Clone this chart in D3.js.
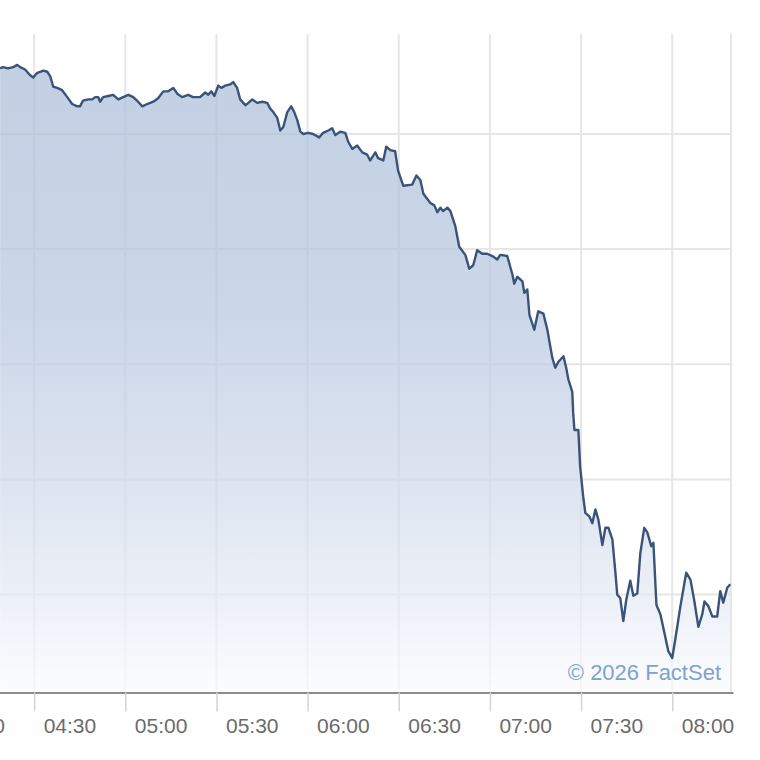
<!DOCTYPE html>
<html lang="en">

<head>
    <meta charset="UTF-8">
    <title>Intraday</title>
    <style>
        body {
            margin: 0;
            background-color: white;
        }

        svg {
            display: block;
            font-family: "Liberation Sans", Arial, sans-serif;
        }
    </style>
</head>

<body>
    <script src="https://d3js.org/d3.v7.min.js"></script>
    <script>
        // minutes after 04:00
        let minutes = [
            18.8, 19.8, 21.4, 23.1, 24.4, 25.4, 27.0, 28.7, 29.7, 30.3, 31.0, 32.0, 33.0, 34.3, 35.3, 36.3, 37.6, 39.2, 40.9, 42.5,
            44.2, 45.1, 46.1, 47.8, 49.1, 50.1, 51.1, 51.7, 52.7, 54.4, 56.0, 57.7, 59.3, 61.0, 62.6, 64.2, 65.6, 67.2, 69.2, 70.8,
            72.5, 74.1, 75.8, 77.1, 78.7, 80.7, 82.3, 84.6, 86.3, 87.3, 88.3, 89.3, 90.6, 91.6, 92.9, 94.5, 95.5, 96.8, 97.8,
            99.5, 100.5, 101.8, 103.4, 105.1, 106.7, 107.7, 108.7, 110.0, 111.0, 112.0, 113.3, 114.6, 115.6, 116.6, 117.6, 118.6, 120.2, 121.8, 123.8,
            125.1, 126.8, 128.1, 129.1, 130.7, 132.4, 133.4, 134.7, 136.3, 138.0, 139.6, 140.6, 142.3, 143.2, 144.9, 145.9, 147.2, 148.8, 149.8, 151.5,
            154.4, 155.8, 157.1, 158.1,
            160.4, 161.7, 162.7, 163.7, 164.6, 166.0, 167.0, 168.6, 169.9, 171.9, 173.2, 174.5, 175.8, 177.5, 179.1, 180.8, 182.4, 183.4, 185.7, 187.4,
            188.0, 189.0, 190.7, 191.3, 192.3, 193.0, 194.6, 195.9, 197.6, 198.9, 200.5, 201.5, 202.5, 204.2, 205.1, 205.8,
            207.1, 207.4, 207.8, 209.1, 209.7, 210.7, 211.4, 212.7, 213.7, 214.7, 215.7, 217.0, 218.0, 219.0, 220.3, 221.3, 221.9, 222.9, 223.9, 224.9,
            226.2, 227.2, 228.5, 229.5, 230.8, 231.8, 233.1, 233.8, 234.8, 236.1, 237.4, 238.7, 240.0, 241.0, 242.7, 244.6, 246.0, 247.3, 248.6, 249.9,
            250.6, 251.9, 253.2, 254.8, 255.8, 256.8, 258.1, 259.1
        ];

        let prices = [
            5.57, 5.58, 5.57, 5.58, 5.60, 5.58, 5.56, 5.51, 5.49, 5.51, 5.53, 5.54, 5.55, 5.54, 5.50, 5.41, 5.40, 5.38, 5.32, 5.26,
            5.24, 5.24, 5.29, 5.30, 5.30, 5.32, 5.32, 5.28, 5.32, 5.33, 5.34, 5.30, 5.32, 5.34, 5.32, 5.28, 5.24, 5.26, 5.28, 5.31,
            5.37, 5.37, 5.40, 5.35, 5.32, 5.34, 5.32, 5.32, 5.36, 5.34, 5.37, 5.33, 5.42, 5.40, 5.42, 5.43, 5.45, 5.40, 5.30,
            5.25, 5.27, 5.30, 5.27, 5.28, 5.27, 5.22, 5.19, 5.14, 5.03, 5.06, 5.19, 5.24, 5.19, 5.12, 5.02, 5.00, 5.01, 5.00, 4.97,
            5.01, 5.03, 5.05, 4.99, 5.02, 5.01, 4.93, 4.87, 4.90, 4.84, 4.82, 4.77, 4.84, 4.79, 4.77, 4.89, 4.86, 4.85, 4.68, 4.55,
            4.56, 4.64, 4.60, 4.48,
            4.40, 4.38, 4.32, 4.36, 4.33, 4.36, 4.33, 4.20, 4.02, 3.95, 3.83, 3.86, 3.99, 3.96, 3.96, 3.94, 3.91, 3.95, 3.94, 3.78,
            3.70, 3.76, 3.72, 3.62, 3.65, 3.43, 3.30, 3.46, 3.44, 3.30, 3.06, 2.97, 3.02, 3.07, 2.97, 2.87,
            2.76, 2.58, 2.43, 2.43, 2.11, 1.85, 1.71, 1.68, 1.62, 1.74, 1.65, 1.43, 1.58, 1.58, 1.48, 1.19, 1.00, 0.97, 0.77, 0.96,
            1.12, 0.99, 1.01, 1.36, 1.58, 1.54, 1.42, 1.45, 0.91, 0.83, 0.67, 0.51, 0.45, 0.61, 0.90, 1.19, 1.13, 0.94, 0.72, 0.83,
            0.94, 0.90, 0.81, 0.81, 1.03, 0.93, 1.06, 1.09
        ];

        let tickLabels = ['04:00', '04:30', '05:00', '05:30', '06:00', '06:30', '07:00', '07:30', '08:00'];
        let gridValues = [1, 2, 3, 4, 5];

        {
            let width = 760,
                height = 760;
            let top = 34,
                bottom = 692.5;

            let parse = d3.timeParse('%H:%M');
            let start = parse('04:00');
            let data = minutes.map((m, i) => ({
                t: new Date(start.getTime() + m * 60000),
                v: prices[i]
            }));
            let tickDates = tickLabels.map(parse);

            let x = d3.scaleTime()
                .domain([start, parse('08:20')])
                .range([-57, 733]);

            let y = d3.scaleLinear()
                .domain([0.15, 5.868])
                .range([bottom, top]);

            let svg = d3.select('body')
                .append('svg')
                .attr('width', width)
                .attr('height', height);

            let defs = svg.append('defs');
            let grad = defs.append('linearGradient')
                .attr('id', 'fade')
                .attr('gradientUnits', 'userSpaceOnUse')
                .attr('x1', 0).attr('x2', 0)
                .attr('y1', 65).attr('y2', bottom);
            [
                [0, 'rgb(169,188,216)'],
                [0.4, 'rgb(182,198,222)'],
                [0.65, 'rgb(205,216,234)'],
                [0.85, 'rgb(228,234,244)'],
                [1, 'rgb(252,252,255)']
            ].forEach(s => grad.append('stop').attr('offset', s[0]).attr('stop-color', s[1]));

            // grid
            let grid = svg.append('g').attr('stroke', '#e6e6e6').attr('stroke-width', 2);
            grid.selectAll('.h')
                .data(gridValues)
                .enter().append('line')
                .attr('x1', 0).attr('x2', 732)
                .attr('y1', d => y(d)).attr('y2', d => y(d));
            grid.selectAll('.v')
                .data(tickDates)
                .enter().append('line')
                .attr('x1', d => x(d)).attr('x2', d => x(d))
                .attr('y1', top).attr('y2', bottom);
            grid.append('line')
                .attr('x1', 731).attr('x2', 731)
                .attr('y1', top).attr('y2', bottom);

            let area = d3.area()
                .x(d => x(d.t))
                .y0(bottom)
                .y1(d => y(d.v));

            let line = d3.line()
                .x(d => x(d.t))
                .y(d => y(d.v));

            svg.append('path')
                .datum(data)
                .attr('d', area)
                .attr('fill', 'url(#fade)')
                .attr('fill-opacity', 0.7);

            svg.append('path')
                .datum(data)
                .attr('d', line)
                .attr('fill', 'none')
                .attr('stroke', '#3a5479')
                .attr('stroke-width', 2.4)
                .attr('stroke-linejoin', 'round');

            // x axis
            let axis = svg.append('g')
                .attr('transform', `translate(0,${bottom})`)
                .call(d3.axisBottom(x)
                    .tickValues(tickDates)
                    .tickSize(19)
                    .tickSizeOuter(0)
                    .tickFormat(d3.timeFormat('%H:%M')));

            axis.select('.domain')
                .attr('stroke', '#8c8c8c')
                .attr('stroke-width', 2);
            axis.selectAll('.tick line')
                .attr('stroke', '#d4d4d4')
                .attr('stroke-width', 1.5);
            axis.selectAll('.tick text')
                .attr('text-anchor', 'start')
                .attr('x', 9)
                .attr('y', 40.5)
                .attr('dy', 0)
                .attr('fill', '#6b6b6b')
                .style('font-size', '21px')
                .style('font-family', '"Liberation Sans", Arial, sans-serif');

            svg.append('text')
                .attr('x', 721)
                .attr('y', 680)
                .attr('text-anchor', 'end')
                .attr('fill', '#7fa2cd')
                .style('font-size', '22px')
                .text('\u00a9 2026 FactSet');
        }
    </script>
</body>

</html>
